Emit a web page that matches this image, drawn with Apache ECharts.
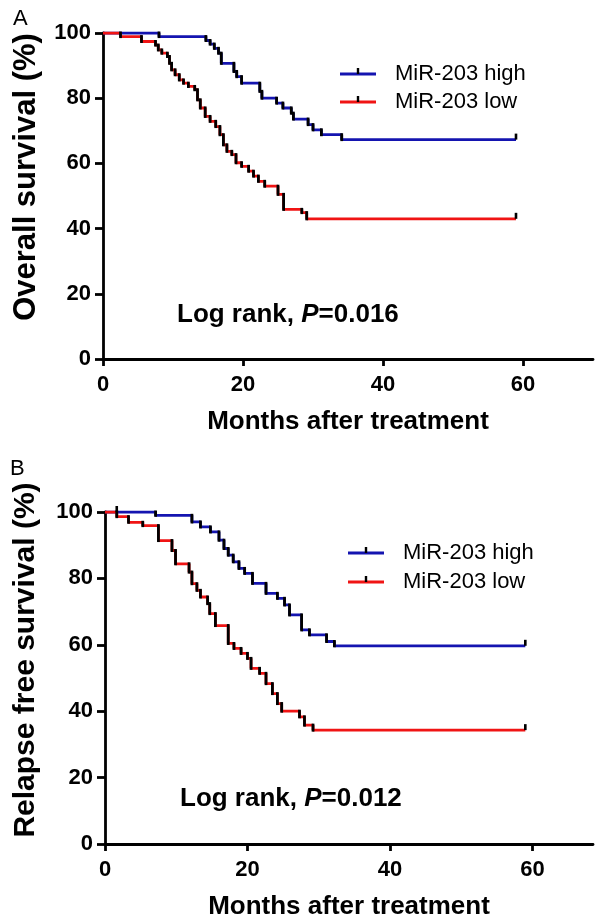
<!DOCTYPE html>
<html>
<head>
<meta charset="utf-8">
<script src="https://cdn.jsdelivr.net/npm/echarts@6/dist/echarts.min.js"></script>
<style>html,body{margin:0;padding:0;background:#fff}#c{width:600px;height:924px}</style>
</head>
<body>
<div id="c"></div>
<script>
// ---------- data ----------
const xTicks = [0, 20, 40, 60];
const yTicks = [0, 20, 40, 60, 80, 100];
const seriesNames = ['MiR-203 high', 'MiR-203 low'];
const endMonth = 59;

// Panel A: overall survival (month, % after event)
const osHighT = [8.0, 14.7, 15.3, 15.9, 16.5, 16.9, 18.7, 19.1, 19.8, 22.4, 22.7, 24.8, 25.7, 26.9, 27.2, 29.3, 30.0, 31.2, 34.1];
const osHighS = [98.9, 97.7, 96.6, 95.3, 93.8, 90.7, 88.2, 86.6, 84.6, 82.1, 80.0, 78.5, 77.0, 75.4, 73.6, 71.9, 70.3, 68.8, 67.3];
const osLowT = [2.5, 5.5, 7.5, 7.9, 8.4, 9.2, 9.5, 9.8, 10.3, 10.9, 11.5, 12.2, 13.1, 13.5, 13.9, 14.6, 15.3, 16.1, 16.7, 17.2, 17.7, 18.4, 19.0, 19.8, 20.8, 21.5, 22.2, 23.1, 25.0, 25.8, 28.4, 29.1];
const osLowS = [98.9, 97.4, 96.3, 94.8, 93.8, 92.8, 90.7, 88.7, 87.2, 85.6, 84.6, 83.6, 82.6, 79.5, 77.0, 74.4, 72.9, 71.3, 68.8, 65.7, 63.7, 62.7, 60.2, 59.1, 57.6, 56.1, 54.5, 53.0, 50.5, 45.9, 44.9, 43.0];

// Panel B: relapse free survival
const rfsHighT = [7.1, 12.2, 13.4, 14.8, 16.0, 16.7, 17.3, 18.0, 18.8, 19.6, 20.7, 22.6, 24.2, 25.2, 25.9, 27.6, 28.7, 31.1, 32.2];
const rfsHighS = [99.0, 97.0, 95.5, 94.0, 91.5, 89.0, 87.0, 85.0, 83.0, 81.5, 78.5, 75.5, 74.0, 72.0, 69.0, 64.5, 63.0, 61.0, 59.7];
const rfsLowT = [1.65, 3.3, 5.3, 7.5, 9.4, 9.9, 11.8, 12.2, 12.9, 13.4, 14.4, 14.7, 15.5, 17.3, 18.1, 19.1, 20.0, 20.5, 21.7, 22.6, 23.5, 24.2, 24.8, 27.3, 28.0, 29.2];
const rfsLowS = [98.6, 96.9, 95.9, 91.4, 88.4, 84.4, 81.9, 78.4, 76.4, 74.4, 72.4, 69.4, 65.8, 60.4, 58.9, 57.4, 55.9, 52.9, 51.4, 48.3, 45.3, 42.3, 40.0, 38.3, 35.8, 34.3];

// censor marks (month, %)
const censorA = [[endMonth, 67.3], [endMonth, 43.0]];
const censorB = [[1.65, 100], [endMonth, 59.7], [endMonth, 34.3]];

const pTextA = 'P=0.016';
const pTextB = 'P=0.012';

// ---------- helpers ----------
const BLUE = '#1414b0', RED = '#f01414';
const FONT = 'Arial, "Liberation Sans", sans-serif';
function stepData(T, S) {
  const d = [[0, 100]];
  for (let i = 0; i < T.length; i++) d.push([T[i], S[i]]);
  d.push([endMonth, S[S.length - 1]]);
  return d;
}
function dropData(T, S) {
  const d = [];
  let prev = 100;
  for (let i = 0; i < T.length; i++) { d.push([T[i], prev, S[i]]); prev = S[i]; }
  return d;
}
function dropSeries(idx, T, S) {
  return {
    type: 'custom', xAxisIndex: idx, yAxisIndex: idx, z: 5,
    data: dropData(T, S),
    encode: { x: 0, y: [1, 2] },
    renderItem: function (params, api) {
      const p1 = api.coord([api.value(0), api.value(1)]);
      const p2 = api.coord([api.value(0), api.value(2)]);
      return { type: 'line', shape: { x1: p1[0], y1: p1[1] - 1.5, x2: p2[0], y2: p2[1] + 1.5 },
        style: { stroke: '#000', lineWidth: 2.8 } };
    }
  };
}
function censorSeries(idx, data) {
  return {
    type: 'custom', xAxisIndex: idx, yAxisIndex: idx, z: 6,
    data: data, encode: { x: 0, y: 1 },
    renderItem: function (params, api) {
      const p = api.coord([api.value(0), api.value(1)]);
      return { type: 'line', shape: { x1: p[0], y1: p[1], x2: p[0], y2: p[1] - 6 },
        style: { stroke: '#000', lineWidth: 2.6 } };
    }
  };
}
function lineSeries(idx, name, color, T, S) {
  return {
    type: 'line', name: name, xAxisIndex: idx, yAxisIndex: idx, step: 'end',
    symbol: 'none', data: stepData(T, S), z: 4,
    lineStyle: { color: color, width: 2.8 }, itemStyle: { color: color }
  };
}
function xAx(idx, max, gap, margin) {
  return {
    type: 'value', gridIndex: idx, min: 0, max: max, interval: 20,
    name: 'Months after treatment', nameLocation: 'middle', nameGap: gap,
    nameTextStyle: { fontFamily: FONT, fontWeight: 'bold', fontSize: 26, color: '#000' },
    axisLine: { show: true, onZero: false, lineStyle: { color: '#000', width: 2.8 } },
    axisTick: { show: true, length: 7, lineStyle: { color: '#000', width: 2.8 }, customValues: xTicks },
    axisLabel: { fontFamily: FONT, fontWeight: 'bold', fontSize: 22, color: '#000', margin: margin, customValues: xTicks },
    splitLine: { show: false }
  };
}
function yAx(idx) {
  return {
    type: 'value', gridIndex: idx, min: 0, max: 100, interval: 20,
    axisLine: { show: true, onZero: false, lineStyle: { color: '#000', width: 2.8 } },
    axisTick: { show: true, length: 8, lineStyle: { color: '#000', width: 2.8 } },
    axisLabel: { fontFamily: FONT, fontWeight: 'bold', fontSize: 22, color: '#000', margin: 12 },
    splitLine: { show: false }
  };
}
function legendGraphics(x, y1, y2, tx) {
  const g = [];
  [[y1, BLUE, seriesNames[0]], [y2, RED, seriesNames[1]]].forEach(function (r) {
    g.push({ type: 'line', shape: { x1: x, y1: r[0], x2: x + 36, y2: r[0] }, style: { stroke: r[1], lineWidth: 3 } });
    g.push({ type: 'line', shape: { x1: x + 18, y1: r[0], x2: x + 18, y2: r[0] - 6 }, style: { stroke: '#000', lineWidth: 2.4 } });
    g.push({ type: 'text', x: tx, y: r[0], style: { text: r[2], font: '22px ' + FONT, fill: '#000', textVerticalAlign: 'middle' } });
  });
  return g;
}
function logRank(x, y, p) {
  return { type: 'text', x: x, y: y, style: {
    rich: { a: { font: 'bold 26px ' + FONT, fill: '#000' }, b: { font: 'italic bold 26px ' + FONT, fill: '#000' } },
    text: '{a|Log rank, }{b|P}{a|' + p.slice(1) + '}', textVerticalAlign: 'middle' } };
}

const chart = echarts.init(document.getElementById('c'), null, { renderer: 'canvas' });
chart.setOption({
  animation: false,
  backgroundColor: '#fff',
  grid: [
    { left: 103, top: 33, width: 490, height: 326 },
    { left: 105, top: 512, width: 488, height: 332 }
  ],
  xAxis: [xAx(0, 70, 50, 15), xAx(1, 68.5, 50, 15)],
  yAxis: [yAx(0), yAx(1)],
  series: [
    lineSeries(0, seriesNames[0], BLUE, osHighT, osHighS),
    lineSeries(0, seriesNames[1], RED, osLowT, osLowS),
    dropSeries(0, osHighT, osHighS),
    dropSeries(0, osLowT, osLowS),
    censorSeries(0, censorA),
    lineSeries(1, seriesNames[0], BLUE, rfsHighT, rfsHighS),
    lineSeries(1, seriesNames[1], RED, rfsLowT, rfsLowS),
    dropSeries(1, rfsHighT, rfsHighS),
    dropSeries(1, rfsLowT, rfsLowS),
    censorSeries(1, censorB)
  ],
  graphic: [].concat(
    [
      { type: 'text', x: 13, y: 19, style: { text: 'A', font: '22px ' + FONT, fill: '#000', textVerticalAlign: 'middle' } },
      { type: 'text', x: 10, y: 469, style: { text: 'B', font: '22px ' + FONT, fill: '#000', textVerticalAlign: 'middle' } },
      { type: 'text', x: 26, y: 177, rotation: Math.PI / 2, style: { text: 'Overall survival (%)', font: 'bold 31px ' + FONT, fill: '#000', textAlign: 'center', textVerticalAlign: 'middle' } },
      { type: 'text', x: 26, y: 660, rotation: Math.PI / 2, style: { text: 'Relapse free survival (%)', font: 'bold 30px ' + FONT, fill: '#000', textAlign: 'center', textVerticalAlign: 'middle' } },
      logRank(177, 315, pTextA),
      logRank(180, 799, pTextB)
    ],
    legendGraphics(340, 74, 102, 395),
    legendGraphics(348, 553, 582, 403)
  )
});
</script>
</body>
</html>
